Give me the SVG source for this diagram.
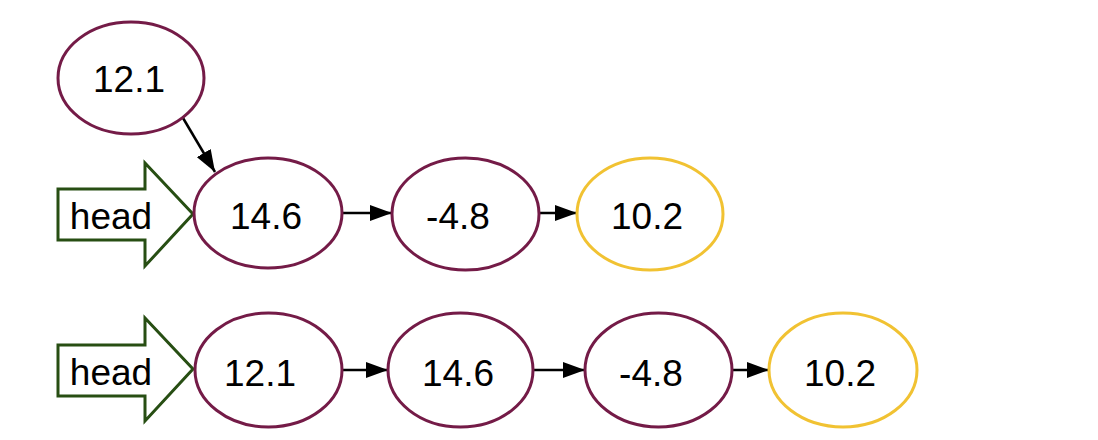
<svg xmlns="http://www.w3.org/2000/svg" width="1098" height="440" viewBox="0 0 1098 440">
<style>
.n{fill:#ffffff;stroke:#741b47;stroke-width:3}
.y{fill:#ffffff;stroke:#f1c232;stroke-width:3}
.h{fill:#ffffff;stroke:#274e13;stroke-width:3;stroke-linejoin:miter}
.t{font-family:"Liberation Sans",Arial,sans-serif;font-size:37px;fill:#000000;text-anchor:middle}
.c{stroke:#000000;stroke-width:2.5;fill:none;marker-end:url(#ah)}
</style>
<defs>
<marker id="ah" markerUnits="userSpaceOnUse" markerWidth="24" markerHeight="16" refX="22" refY="8" orient="auto">
<path d="M0,0 L22,8 L0,16 Z" fill="#000000"/>
</marker>
</defs>
<rect width="1098" height="440" fill="#ffffff"/>
<g id="connectors">
<line class="c" x1="183" y1="118" x2="215" y2="172"/>
<line class="c" x1="342" y1="213" x2="392" y2="213"/>
<line class="c" x1="539" y1="213" x2="577" y2="213"/>
<line class="c" x1="342" y1="370" x2="388" y2="370"/>
<line class="c" x1="533" y1="370" x2="585" y2="370"/>
<line class="c" x1="732" y1="370" x2="769" y2="370"/>
</g>
<g id="top-extra">
<ellipse class="n" cx="131" cy="78" rx="73" ry="56"/>
<text class="t" x="129" y="92">12.1</text>
</g>
<g id="top-head">
<polygon class="h" points="58,189 145,189 145,163 193,214 145,266 145,240 58,240"/>
<text class="t" x="111" y="229">head</text>
</g>
<g id="top-n1">
<ellipse class="n" cx="268" cy="213" rx="74" ry="55"/>
<text class="t" x="266" y="229">14.6</text>
</g>
<g id="top-n2">
<ellipse class="n" cx="465.5" cy="214" rx="73.5" ry="56"/>
<text class="t" x="458" y="229">-4.8</text>
</g>
<g id="top-n3">
<ellipse class="y" cx="650" cy="214" rx="73" ry="56"/>
<text class="t" x="647" y="229">10.2</text>
</g>
<g id="bottom-head">
<polygon class="h" points="58,345 145,345 145,318 193,369 145,421 145,396 58,396"/>
<text class="t" x="111" y="385">head</text>
</g>
<g id="bottom-n1">
<ellipse class="n" cx="268.5" cy="370" rx="73.5" ry="57"/>
<text class="t" x="260" y="386">12.1</text>
</g>
<g id="bottom-n2">
<ellipse class="n" cx="460.5" cy="370" rx="72.5" ry="57"/>
<text class="t" x="458" y="386">14.6</text>
</g>
<g id="bottom-n3">
<ellipse class="n" cx="658.5" cy="370" rx="73.5" ry="57"/>
<text class="t" x="651" y="386">-4.8</text>
</g>
<g id="bottom-n4">
<ellipse class="y" cx="843" cy="370" rx="74" ry="57"/>
<text class="t" x="840" y="386">10.2</text>
</g>
</svg>
